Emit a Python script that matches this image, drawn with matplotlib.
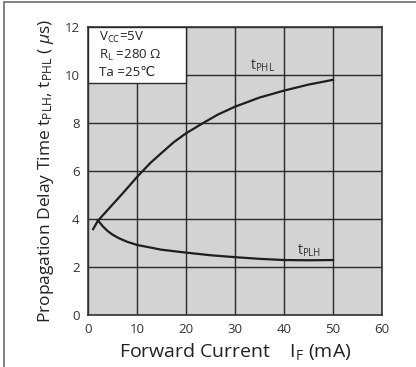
import matplotlib
matplotlib.use("Agg")
import matplotlib.pyplot as plt
from matplotlib.patches import Rectangle

# forward current (mA) and delay times (us)
if_phl = [1.05, 2, 3, 5, 7, 10, 12.7, 15, 17.5, 20, 23.5, 26.5, 30, 35, 40, 45, 50]
t_phl = [3.58, 3.92, 4.15, 4.6, 5.05, 5.75, 6.33, 6.75, 7.2, 7.57, 8.0, 8.35, 8.68, 9.06, 9.35, 9.6, 9.8]
if_plh = [2, 3, 4, 5, 6.3, 8, 10, 15, 20, 25, 30, 35, 40, 45, 50]
t_plh = [3.95, 3.7, 3.5, 3.35, 3.2, 3.05, 2.92, 2.72, 2.6, 2.49, 2.41, 2.34, 2.29, 2.28, 2.29]

xticks = [0, 10, 20, 30, 40, 50, 60]
yticks = [0, 2, 4, 6, 8, 10, 12]
conditions = ["V$_{\\mathregular{CC}}$=5V", "R$_{\\mathregular{L}}$ =280 $\\Omega$", "Ta =25\u2103"]

plt.rcParams["font.family"] = ["Open Sans", "DejaVu Sans"]
plt.rcParams["mathtext.fontset"] = "custom"
plt.rcParams["mathtext.rm"] = "Open Sans"
plt.rcParams["mathtext.it"] = "Open Sans:italic"

fig = plt.figure(figsize=(4.16, 3.67), dpi=100)
ax = fig.add_axes([88 / 416, 1 - 315 / 367, 294 / 416, 288 / 367])

# gray frame round the whole picture (only left/top visible)
fig.patches.append(Rectangle((4 / 416, -0.1), 1.2, (365 / 367) + 0.1, transform=fig.transFigure,
                             fill=False, edgecolor="#777777", linewidth=1.3))

ax.set_facecolor("#d3d3d3")
ax.set_xlim(0, 60)
ax.set_ylim(0, 12)
ax.set_xticks(xticks)
ax.set_yticks(yticks)
ax.grid(True, color="#2a2a2a", linewidth=1.0)
ax.set_axisbelow(True)
ax.tick_params(length=0, labelsize=9.5, pad=6, colors="#333333")
for s in ax.spines.values():
    s.set_color("#333333")
    s.set_linewidth(1.2)

ax.plot(if_phl, t_phl, color="#1e1e1e", linewidth=1.6, zorder=3)
ax.plot(if_plh, t_plh, color="#1e1e1e", linewidth=1.6, zorder=3)

ax.text(35.6, 10.4, "t$_{\\mathregular{PHL}}$", fontsize=10, ha="center", va="center", color="#333333")
ax.text(45.1, 2.67, "t$_{\\mathregular{PLH}}$", fontsize=10, ha="center", va="center", color="#333333")

# white box with test conditions
ax.add_patch(Rectangle((0, 9.65), 20, 2.35, facecolor="white", edgecolor="#2a2a2a",
                       linewidth=1.0, zorder=4))
for i, line in enumerate(conditions):
    ax.text(2.3, 11.55 - i * 0.72, line, fontsize=9.5, va="center", ha="left",
            color="#222222", zorder=5)

ax.set_xlabel("Forward Current    I$_{\\mathregular{F}}$ (mA)", fontsize=14, color="#222222", labelpad=3)
ax.set_ylabel("Propagation Delay Time t$_{\\mathregular{PLH}}$, t$_{\\mathregular{PHL}}$ ( $\\mu$s)",
              fontsize=12.5, color="#222222", labelpad=6)

fig.savefig("out.png", dpi=100)
